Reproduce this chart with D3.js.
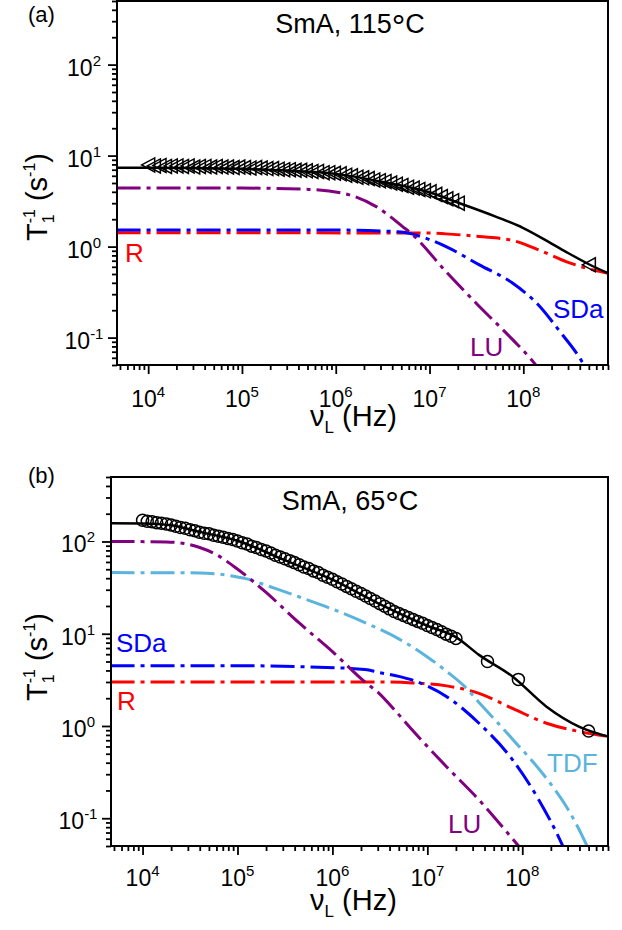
<!DOCTYPE html>
<html>
<head>
<meta charset="utf-8">
<script src="https://cdn.jsdelivr.net/npm/d3@7"></script>
<style>
  body { margin: 0; background: #fff; }
  text { font-family: "Liberation Sans", Arial, sans-serif; fill: #000; }
</style>
</head>
<body>
<svg id="chart" width="622" height="930"></svg>
<script>
// ---------- panel (a): SmA, 115 C ----------
var a_pts_f = [1.00e4,1.15e4,1.32e4,1.51e4,1.74e4,2.00e4,2.29e4,2.63e4,3.02e4,3.47e4,3.98e4,4.57e4,5.25e4,6.03e4,6.92e4,7.94e4,9.12e4,
  1.05e5,1.20e5,1.38e5,1.58e5,1.82e5,2.09e5,2.40e5,2.75e5,3.16e5,3.63e5,4.17e5,4.79e5,5.50e5,6.31e5,7.24e5,8.32e5,9.55e5,
  1.10e6,1.26e6,1.45e6,1.66e6,1.91e6,2.19e6,2.51e6,2.88e6,3.31e6,3.80e6,4.37e6,5.01e6,5.75e6,6.61e6,7.59e6,8.71e6,
  1.00e7,1.15e7,1.32e7,1.51e7,1.74e7,2.00e7,5.0e8];
var a_pts_r = [7.9,7.7,7.8,7.6,7.7,7.7,7.6,7.7,7.5,7.6,7.6,7.5,7.6,7.5,7.5,7.4,7.5,
  7.4,7.3,7.4,7.3,7.2,7.2,7.1,7.0,7.0,6.9,6.9,6.8,6.7,6.7,6.5,6.5,6.4,
  6.3,6.1,6.0,5.8,5.7,5.6,5.4,5.3,5.2,5.0,4.85,4.7,4.5,4.4,4.25,4.1,
  4.0,3.75,3.55,3.35,3.2,3.0,0.63];

var a_fit_f = [4.6e3,1e4,3e4,1e5,3e5,1e6,3e6,1e7,2e7,5e7,1e8,2e8,3e8,5e8,8e8];
var a_fit_r = [7.35,7.35,7.3,7.15,6.85,6.3,5.2,3.95,3.05,2.15,1.6,1.08,0.85,0.64,0.51];

var a_lu_f = [4.6e3,1e5,5.2e5,1.4e6,2.7e6,5.2e6,6.6e6,1.5e7,3.4e7,7.7e7,1.26e8,1.6e8];
var a_lu_r = [4.4,4.4,4.25,3.7,2.75,1.65,1.35,0.53,0.22,0.095,0.055,0.04];

var a_sda_f = [4.6e3,1e6,5e6,6.6e6,1.5e7,3.4e7,7.6e7,1.5e8,2.4e8,4.2e8,5e8];
var a_sda_r = [1.52,1.52,1.45,1.37,1.0,0.63,0.40,0.22,0.12,0.055,0.04];

var a_r_f = [4.6e3,1e7,1.5e7,3.4e7,7.6e7,1.5e8,2.9e8,4.7e8,8e8];
var a_r_r = [1.42,1.41,1.38,1.29,1.17,0.91,0.68,0.58,0.51];

// ---------- panel (b): SmA, 65 C ----------
var b_pts_f = [1.00e4,1.12e4,1.26e4,1.41e4,1.58e4,1.78e4,2.00e4,2.24e4,2.51e4,2.82e4,3.16e4,3.55e4,3.98e4,4.47e4,5.01e4,5.62e4,6.31e4,7.08e4,7.94e4,8.91e4,
  1.00e5,1.12e5,1.26e5,1.41e5,1.58e5,1.78e5,2.00e5,2.24e5,2.51e5,2.82e5,3.16e5,3.55e5,3.98e5,4.47e5,5.01e5,5.62e5,6.31e5,7.08e5,7.94e5,8.91e5,
  1.00e6,1.12e6,1.26e6,1.41e6,1.58e6,1.78e6,2.00e6,2.24e6,2.51e6,2.82e6,3.16e6,3.55e6,3.98e6,4.47e6,5.01e6,5.62e6,6.31e6,7.08e6,7.94e6,8.91e6,
  1.00e7,1.12e7,1.26e7,1.41e7,1.58e7,1.78e7,2.00e7,4.3e7,9.1e7,5.0e8];
var b_pts_r = [170,166,164,160,158,155,151,146,142,139,134,131,126,123,121,117,114,111,108,105,
  101,97,94,89,86,82,79,75,71,68,65,62,59,56,53,51,48,46,43,41,
  39,36.6,34.6,32.6,30.7,28.9,27.3,25.7,24.1,22.6,21.2,19.9,18.6,17.4,16.6,15.8,15.0,14.3,13.6,13.0,
  12.3,11.7,11.1,10.5,9.9,9.4,8.9,5.0,3.2,0.88];

var b_fit_f = [4.6e3,1e4,2e4,4e4,1e5,3e5,1e6,3e6,1e7,2e7,3.5e7,8e7,1.8e8,4e8,8e8];
var b_fit_r = [158,157,150,127,102,64,38.5,21.5,12.2,9.2,5.9,3.4,1.62,0.98,0.77];

var b_lu_f = [4.6e3,1.78e4,4e4,6e4,9.1e4,2e5,4.5e5,1e6,2.2e6,3.1e6,4.5e6,6.9e6,1.6e7,3.5e7,9.3e7,1.1e8];
var b_lu_r = [100,99,86,72,54,28,13,6.4,3.0,2.26,1.5,0.91,0.36,0.158,0.049,0.04];

var b_tdf_f = [4.6e3,4e4,9.1e4,1.35e5,2e5,4.5e5,1e6,2.2e6,5e6,1e7,1.6e7,2.45e7,3.5e7,7.9e7,1.8e8,2.9e8,4.5e8,5.2e8];
var b_tdf_r = [46,45.6,42,38.6,33.5,25,18.5,13.2,8.8,5.6,3.9,2.7,1.8,0.72,0.27,0.135,0.058,0.042];

var b_sda_f = [4.6e3,1e5,4.5e5,2.2e6,3.1e6,5e6,6.9e6,1.6e7,3.5e7,7.9e7,1.5e8,2.5e8,2.8e8];
var b_sda_r = [4.5,4.5,4.4,4.1,3.8,3.45,3.15,2.08,1.07,0.43,0.157,0.058,0.045];

var b_r_f = [4.6e3,3e6,6.9e6,1.6e7,3.5e7,7.9e7,1.8e8,4e8,8e8];
var b_r_r = [3.0,3.0,2.93,2.72,2.26,1.55,1.07,0.87,0.77];

// axis settings shared by both panels
var xDomain = [4.65e3, 8e8];
var yDomain = [0.05, 500];

// colours
var cR = "#ff0000", cSDa = "#0000ff", cLU = "#800080", cTDF = "#5ab4dc";
var dashDot = "24,6,4,6";

var svg = d3.select("#chart");

function zip(f, r) { return f.map(function (d, i) { return [d, r[i]]; }); }
function isMajor(d) { var l = Math.log10(d); return Math.abs(l - Math.round(l)) < 1e-6; }

function drawPanel(p) {
    var x = d3.scaleLog().domain(xDomain).range([p.left, p.right]);
    var y = d3.scaleLog().domain(yDomain).range([p.bottom, p.top]);
    var g = svg.append("g");

    g.append("clipPath").attr("id", "clip" + p.id)
        .append("rect")
        .attr("x", p.left).attr("y", p.top)
        .attr("width", p.right - p.left).attr("height", p.bottom - p.top);

    // ticks (minor + major), labels drawn separately
    var xMinor = x.ticks().filter(function (d) { return !isMajor(d); });
    var xMajor = x.ticks().filter(isMajor);
    var yMinor = y.ticks().filter(function (d) { return !isMajor(d); });
    var yMajor = y.ticks().filter(isMajor);

    [[xMinor, 5], [xMajor, 9]].forEach(function (t) {
        g.append("g").attr("transform", "translate(0," + p.bottom + ")")
            .call(d3.axisBottom(x).tickValues(t[0]).tickSize(t[1]).tickSizeOuter(0).tickFormat(""))
            .call(function (s) { s.select(".domain").remove(); s.selectAll("line").attr("stroke-width", 1.8); });
    });
    [[yMinor, 5], [yMajor, 9]].forEach(function (t) {
        g.append("g").attr("transform", "translate(" + p.left + ",0)")
            .call(d3.axisLeft(y).tickValues(t[0]).tickSize(t[1]).tickSizeOuter(0).tickFormat(""))
            .call(function (s) { s.select(".domain").remove(); s.selectAll("line").attr("stroke-width", 1.8); });
    });

    // power-of-ten tick labels
    function powText(sel) {
        sel.append("tspan").text("10");
        sel.append("tspan").attr("font-size", 15).attr("dy", -10)
            .text(function (d) { var e = Math.round(Math.log10(d)); return e < 0 ? "-" + (-e) : e; });
    }
    g.selectAll(".xl").data(xMajor).enter().append("text")
        .attr("x", function (d) { return x(d); })
        .attr("y", p.bottom + p.xTickDy)
        .attr("text-anchor", "middle").attr("font-size", 23)
        .call(powText);
    g.selectAll(".yl").data(yMajor).enter().append("text")
        .attr("x", p.left - 33)
        .attr("y", function (d) { return y(d) + 11; })
        .attr("text-anchor", "middle").attr("font-size", 23)
        .call(powText);

    // model curves
    var line = d3.line()
        .x(function (d) { return x(d[0]); })
        .y(function (d) { return y(d[1]); })
        .curve(d3.curveMonotoneX);
    var plot = g.append("g").attr("clip-path", "url(#clip" + p.id + ")");

    p.curves.forEach(function (c) {
        plot.append("path")
            .datum(zip(c.f, c.r))
            .attr("d", line)
            .attr("fill", "none")
            .attr("stroke", c.color)
            .attr("stroke-width", 3)
            .attr("stroke-dasharray", dashDot);
    });
    plot.append("path")
        .datum(zip(p.fit.f, p.fit.r))
        .attr("d", line)
        .attr("fill", "none")
        .attr("stroke", "#000")
        .attr("stroke-width", 2.5);

    // measured points
    var pts = zip(p.pts.f, p.pts.r);
    if (p.marker === "tri") {
        plot.selectAll(".pt").data(pts).enter().append("path")
            .attr("d", "M-6.5,0L6.5,-7L6.5,7Z")
            .attr("transform", function (d) { return "translate(" + x(d[0]) + "," + y(d[1]) + ")"; })
            .attr("fill", "none").attr("stroke", "#000").attr("stroke-width", 1.5);
    } else {
        plot.selectAll(".pt").data(pts).enter().append("circle")
            .attr("cx", function (d) { return x(d[0]); })
            .attr("cy", function (d) { return y(d[1]); })
            .attr("r", 6)
            .attr("fill", "none").attr("stroke", "#000").attr("stroke-width", 1.5);
    }

    // frame
    g.append("rect")
        .attr("x", p.left).attr("y", p.top)
        .attr("width", p.right - p.left).attr("height", p.bottom - p.top)
        .attr("fill", "none").attr("stroke", "#000").attr("stroke-width", 2);

    // curve labels
    p.labels.forEach(function (l) {
        g.append("text").attr("x", l.x).attr("y", l.y)
            .attr("font-size", 26).style("fill", l.color).text(l.text);
    });

    // title (with a larger ring for the degree sign) and panel letter
    var t = g.append("text").attr("x", 350).attr("y", p.titleY)
        .attr("text-anchor", "middle").attr("font-size", 27);
    t.append("tspan").text(p.title);
    t.append("tspan").attr("font-size", 34).attr("dy", 5).text("\u00b0");
    t.append("tspan").attr("dy", -5).text("C");
    g.append("text").attr("x", 28).attr("y", p.letterY)
        .attr("font-size", 22).text(p.letter);

    // x axis title
    var xl = g.append("text").attr("x", 310).attr("y", p.xLabY).attr("font-size", 29);
    xl.append("tspan").text("\u03bd");
    xl.append("tspan").attr("font-size", 17).attr("dy", 7).text("L");
    xl.append("tspan").attr("dy", -7).text(" (Hz)");

    // y axis title
    var yl = g.append("text")
        .attr("transform", "translate(47," + p.yLabY + ") rotate(-90)")
        .attr("text-anchor", "middle").attr("font-size", 29);
    yl.append("tspan").text("T");
    yl.append("tspan").attr("font-size", 16).attr("dy", 7).text("1");
    yl.append("tspan").attr("font-size", 16).attr("dx", -9).attr("dy", -19).text("-1");
    yl.append("tspan").attr("dy", 12).text(" (s");
    yl.append("tspan").attr("font-size", 16).attr("dy", -12).text("-1");
    yl.append("tspan").attr("dy", 12).text(")");
}

drawPanel({
    id: "a", left: 117, right: 608, top: 1, bottom: 365,
    xTickDy: 42, xLabY: 426, yLabY: 197, titleY: 33, letterY: 22,
    title: "SmA, 115", letter: "(a)", marker: "tri",
    pts: { f: a_pts_f, r: a_pts_r },
    fit: { f: a_fit_f, r: a_fit_r },
    curves: [
        { f: a_r_f, r: a_r_r, color: cR },
        { f: a_sda_f, r: a_sda_r, color: cSDa },
        { f: a_lu_f, r: a_lu_r, color: cLU }
    ],
    labels: [
        { text: "R", x: 125, y: 262, color: cR },
        { text: "SDa", x: 553, y: 318, color: cSDa },
        { text: "LU", x: 470, y: 356, color: cLU }
    ]
});

drawPanel({
    id: "b", left: 111, right: 608, top: 477, bottom: 846,
    xTickDy: 40, xLabY: 910, yLabY: 657, titleY: 510, letterY: 483,
    title: "SmA, 65", letter: "(b)", marker: "circ",
    pts: { f: b_pts_f, r: b_pts_r },
    fit: { f: b_fit_f, r: b_fit_r },
    curves: [
        { f: b_r_f, r: b_r_r, color: cR },
        { f: b_sda_f, r: b_sda_r, color: cSDa },
        { f: b_tdf_f, r: b_tdf_r, color: cTDF },
        { f: b_lu_f, r: b_lu_r, color: cLU }
    ],
    labels: [
        { text: "SDa", x: 116, y: 652, color: cSDa },
        { text: "R", x: 117, y: 710, color: cR },
        { text: "TDF", x: 547, y: 772, color: cTDF },
        { text: "LU", x: 448, y: 833, color: cLU }
    ]
});
</script>
</body>
</html>
